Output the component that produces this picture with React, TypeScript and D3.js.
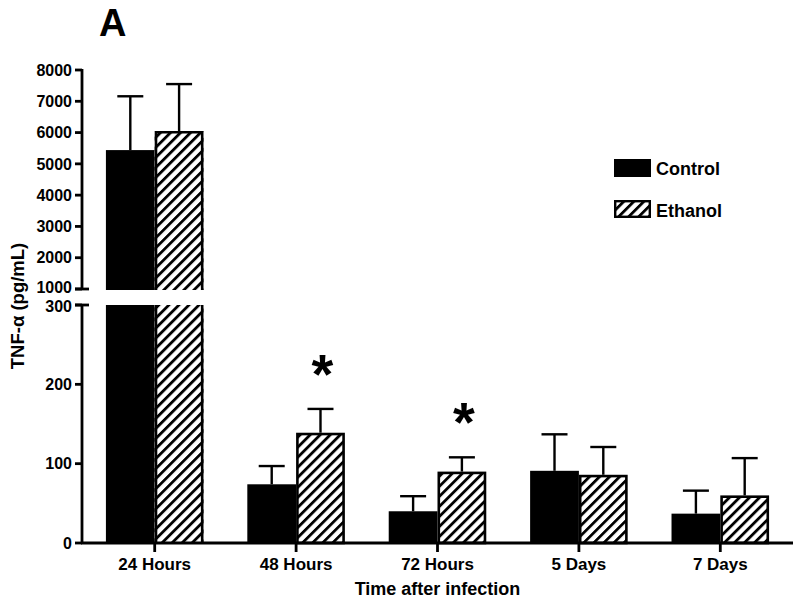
import React from "react";
import * as d3 from "d3";

const categories = ["24 Hours", "48 Hours", "72 Hours", "5 Days", "7 Days"];
const seriesNames = ["Control", "Ethanol"];
const controlMeans = [5440, 74, 40, 91, 37];
const controlErrTop = [7160, 97, 59, 137, 66];
const ethanolMeans = [6050, 139, 90, 86, 60];
const ethanolErrTop = [7550, 169, 108, 121, 107];
const significant = [false, true, true, false, false];
const upperTicks = [1000, 2000, 3000, 4000, 5000, 6000, 7000, 8000];
const lowerTicks = [0, 100, 200, 300];

const W = 800;
const H = 602;
const FONT = "'Liberation Sans', Arial, sans-serif";

export default function App() {
  const axisX = 82;
  const x = d3.scaleBand<string>().domain(categories).range([84, 791]).paddingInner(0.31).paddingOuter(0.155);
  const xs = d3.scaleBand<string>().domain(seriesNames).range([0, x.bandwidth()]).padding(0);
  const yUp = d3.scaleLinear().domain([1000, 8000]).range([289, 70]);
  const yLo = d3.scaleLinear().domain([0, 300]).range([543, 305]);
  const breakTop = 290;
  const breakBottom = 305;

  const posY = (v: number) => (v > 300 ? yUp(v) : yLo(v));

  const bars: React.ReactNode[] = [];
  const errs: React.ReactNode[] = [];
  const stars: React.ReactNode[] = [];

  categories.forEach((c, i) => {
    const series = [
      { name: "Control", mean: controlMeans[i], err: controlErrTop[i] },
      { name: "Ethanol", mean: ethanolMeans[i], err: ethanolErrTop[i] },
    ];
    series.forEach((s) => {
      const x0 = (x(c) as number) + (xs(s.name) as number);
      const w = xs.bandwidth();
      const hatch = s.name === "Ethanol";
      const fill = hatch ? "url(#hatch)" : "#000";
      const sw = hatch ? 2.6 : 0;
      const inset = hatch ? sw / 2 : 0;
      if (s.mean > 300) {
        const top = yUp(s.mean);
        bars.push(
          <g key={`${c}-${s.name}-u`}>
            <rect x={x0} y={top} width={w} height={breakTop - top} fill={fill} />
            {hatch && (
              <path
                d={`M${x0 + inset},${breakTop} V${top + inset} H${x0 + w - inset} V${breakTop}`}
                fill="none"
                stroke="#000"
                strokeWidth={sw}
              />
            )}
          </g>
        );
        bars.push(
          <g key={`${c}-${s.name}-l`}>
            <rect x={x0} y={breakBottom} width={w} height={yLo(0) - breakBottom} fill={fill} />
            {hatch && (
              <path
                d={`M${x0 + inset},${breakBottom} V${yLo(0)} M${x0 + w - inset},${breakBottom} V${yLo(0)}`}
                fill="none"
                stroke="#000"
                strokeWidth={sw}
              />
            )}
          </g>
        );
      } else {
        const top = yLo(s.mean);
        bars.push(
          <rect
            key={`${c}-${s.name}`}
            x={x0 + inset}
            y={top + inset}
            width={w - 2 * inset}
            height={yLo(0) - top - inset}
            fill={fill}
            stroke={hatch ? "#000" : "none"}
            strokeWidth={sw}
          />
        );
      }
      const cx = x0 + w / 2;
      const yTop = posY(s.err);
      const yMean = posY(s.mean);
      errs.push(
        <g key={`${c}-${s.name}-e`} stroke="#000" strokeWidth={2.4}>
          <line x1={cx} x2={cx} y1={yMean} y2={yTop} />
          <line x1={cx - 13} x2={cx + 13} y1={yTop} y2={yTop} />
        </g>
      );
      if (hatch && significant[i]) {
        stars.push(
          <text
            key={`${c}-star`}
            x={cx + 2}
            y={yTop - 16}
            textAnchor="middle"
            fontFamily={FONT}
            fontWeight="bold"
            fontSize={56}
          >
            *
          </text>
        );
      }
    });
  });

  const xEnd = 793;

  return (
    <svg width={W} height={H} style={{ position: "absolute", left: 0, top: 0, background: "#fff" }}>
      <defs>
        <pattern id="hatch" patternUnits="userSpaceOnUse" width={7.1} height={7.1} patternTransform="rotate(45)">
          <rect width={7.1} height={7.1} fill="#fff" />
          <rect x={0} y={0} width={2.8} height={7.1} fill="#000" />
        </pattern>
      </defs>

      <text x={99} y={36} fontFamily={FONT} fontWeight="bold" fontSize={38}>
        A
      </text>

      {bars}
      {errs}
      {stars}

      <g stroke="#000" strokeWidth={2.8}>
        <line x1={axisX} x2={axisX} y1={yUp(8000) - 1} y2={yUp(1000)} />
        {upperTicks.map((t) => (
          <line key={`ut${t}`} x1={75} x2={axisX} y1={yUp(t)} y2={yUp(t)} />
        ))}
        <line x1={75} x2={89} y1={yUp(1000)} y2={yUp(1000)} />
        <line x1={axisX} x2={axisX} y1={yLo(300)} y2={yLo(0)} />
        {lowerTicks.map((t) => (
          <line key={`lt${t}`} x1={75} x2={axisX} y1={yLo(t)} y2={yLo(t)} />
        ))}
        <line x1={75} x2={89} y1={yLo(300)} y2={yLo(300)} />
        <line x1={axisX - 1} x2={xEnd} y1={yLo(0)} y2={yLo(0)} />
        {categories.map((c) => {
          const cx = (x(c) as number) + x.bandwidth() / 2;
          return <line key={`xt${c}`} x1={cx} x2={cx} y1={yLo(0)} y2={yLo(0) + 9} />;
        })}
      </g>

      <g fontFamily={FONT} fontWeight="bold" fontSize={16} textAnchor="end">
        {upperTicks.map((t) => (
          <text key={`utl${t}`} x={72} y={yUp(t) - (t === 1000 ? 1.5 : 0)} dy="0.36em">
            {t}
          </text>
        ))}
        {lowerTicks.map((t) => (
          <text key={`ltl${t}`} x={72} y={yLo(t) + (t === 300 ? 1.5 : 0)} dy="0.36em">
            {t}
          </text>
        ))}
      </g>

      <g fontFamily={FONT} fontWeight="bold" fontSize={17} textAnchor="middle">
        {categories.map((c) => (
          <text key={`xl${c}`} x={(x(c) as number) + x.bandwidth() / 2} y={570}>
            {c}
          </text>
        ))}
      </g>

      <text x={(axisX + xEnd) / 2} y={595} textAnchor="middle" fontFamily={FONT} fontWeight="bold" fontSize={18}>
        Time after infection
      </text>

      <text
        transform={`translate(24, 306) rotate(-90)`}
        textAnchor="middle"
        fontFamily={FONT}
        fontWeight="bold"
        fontSize={18.5}
      >
        TNF-α (pg/mL)
      </text>

      <g fontFamily={FONT} fontWeight="bold" fontSize={18}>
        <rect x={614} y={159} width={37} height={18} fill="#000" />
        <text x={656} y={175}>
          {seriesNames[0]}
        </text>
        <rect x={615.2} y={201.2} width={34.6} height={15.6} fill="url(#hatch)" stroke="#000" strokeWidth={2.4} />
        <text x={656} y={217}>
          {seriesNames[1]}
        </text>
      </g>
    </svg>
  );
}
